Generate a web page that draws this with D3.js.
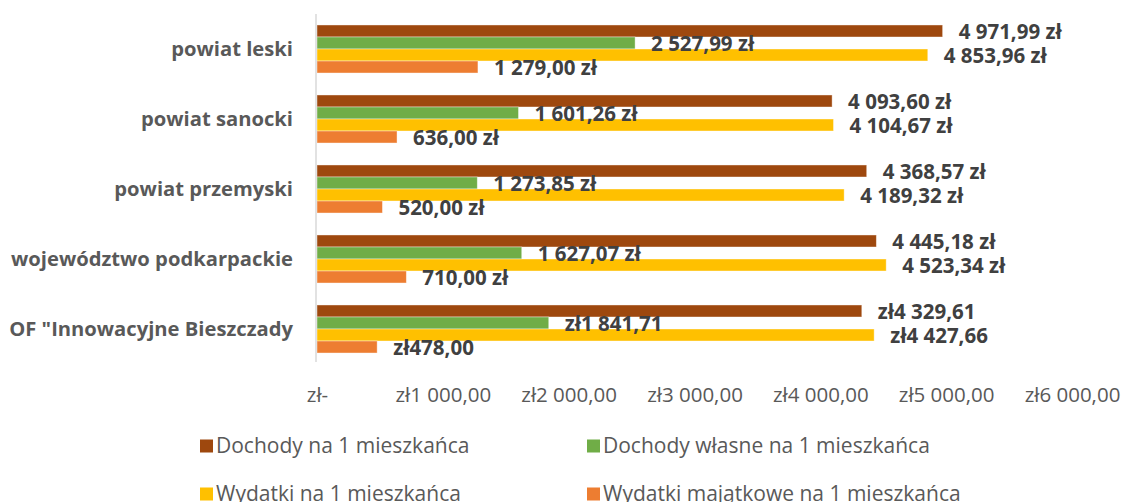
<!DOCTYPE html>
<html>
<head>
<meta charset="utf-8">
<script src="https://cdn.jsdelivr.net/npm/d3@7"></script>
<style>
  body { margin: 0; background: #fff; }
  svg { display: block; }
</style>
</head>
<body>
<div id="chart"></div>
<script>
var categories = ["powiat leski", "powiat sanocki", "powiat przemyski", "województwo podkarpackie", "OF \"Innowacyjne Bieszczady"];
var seriesNames = ["Dochody na 1 mieszkańca", "Dochody własne na 1 mieszkańca", "Wydatki na 1 mieszkańca", "Wydatki majątkowe na 1 mieszkańca"];
var seriesColors = ["#9e480e", "#70ad47", "#ffc000", "#ed7d31"];

var dochody = [4971.99, 4093.60, 4368.57, 4445.18, 4329.61];
var dochodyWlasne = [2527.99, 1601.26, 1273.85, 1627.07, 1841.71];
var wydatki = [4853.96, 4104.67, 4189.32, 4523.34, 4427.66];
var wydatkiMajatkowe = [1279.00, 636.00, 520.00, 710.00, 478.00];
// ostatnia kategoria ma walutę przed liczbą
var currencyFirst = [false, false, false, false, true];

var tickValues = [0, 1000, 2000, 3000, 4000, 5000, 6000];

var seriesValues = [dochody, dochodyWlasne, wydatki, wydatkiMajatkowe];

var width = 1128, height = 502;

var pl = d3.formatLocale({decimal: ",", thousands: "\u00a0", grouping: [3], currency: ["", " zł"]});
var num = pl.format(",.2f");

var svg = d3.select("#chart").append("svg")
  .attr("width", width)
  .attr("height", height);

var x = d3.scaleLinear().domain([0, 6000]).range([317, 1072]);
var y = d3.scaleBand().domain(categories).range([14, 364]).paddingInner(0.314).paddingOuter(0.157);
var y1 = d3.scaleBand().domain(d3.range(seriesNames.length)).range([0, y.bandwidth()]);

var data = categories.map(function(cat, ci){
  return seriesValues.map(function(vals, si){
    return {cat: cat, ci: ci, si: si, value: vals[ci]};
  });
});

var groups = svg.selectAll("g.group")
  .data(data)
  .enter()
  .append("g")
  .attr("class", "group")
  .attr("transform", function(d, i){ return "translate(0," + y(categories[i]) + ")"; });

groups.selectAll("rect")
  .data(function(d){ return d; })
  .enter()
  .append("rect")
  .attr("x", x(0))
  .attr("y", function(d){ return y1(d.si); })
  .attr("width", function(d){ return x(d.value) - x(0); })
  .attr("height", y1.bandwidth())
  .attr("fill", function(d){ return seriesColors[d.si]; })
  .attr("stroke", "#fff")
  .attr("stroke-opacity", 0.5)
  .attr("stroke-width", 0.8);

groups.selectAll("text")
  .data(function(d){ return d; })
  .enter()
  .append("text")
  .attr("x", function(d){ return x(d.value) + 16; })
  .attr("y", function(d){ return y1(d.si) + y1.bandwidth() / 2 + 1; })
  .attr("dy", "0.35em")
  .attr("fill", "#404040")
  .style("font-family", "'Open Sans', sans-serif")
  .style("font-size", "20.5px")
  .style("font-weight", "bold")
  .text(function(d){
    return currencyFirst[d.ci] ? "zł" + num(d.value) : num(d.value) + " zł";
  });

// category labels
svg.selectAll("text.cat")
  .data(categories)
  .enter()
  .append("text")
  .attr("class", "cat")
  .attr("x", 293)
  .attr("y", function(d){ return y(d) + y.bandwidth() / 2; })
  .attr("dy", "0.35em")
  .attr("text-anchor", "end")
  .attr("fill", "#595959")
  .style("font-family", "'Open Sans', sans-serif")
  .style("font-size", "20.2px")
  .style("font-weight", "bold")
  .text(function(d){ return d; });

// vertical axis line
svg.append("line")
  .attr("x1", x(0) - 1).attr("x2", x(0) - 1)
  .attr("y1", 14).attr("y2", 362)
  .attr("stroke", "#d9d9d9")
  .attr("stroke-width", 1.5);

// x axis
var xAxis = d3.axisBottom(x)
  .tickValues(tickValues)
  .tickSize(0)
  .tickPadding(0)
  .tickFormat(function(d){ return d === 0 ? "zł-" : "zł" + num(d); });

var axisG = svg.append("g")
  .attr("transform", "translate(0,387)")
  .call(xAxis);
axisG.select(".domain").remove();
axisG.selectAll("text")
  .attr("fill", "#595959")
  .style("font-family", "'Open Sans', sans-serif")
  .style("font-size", "20.5px")
  .style("font-weight", "normal");

// legend
var legendPos = [[200, 446], [587, 446], [200, 494], [587, 494]];
var legend = svg.selectAll("g.legend")
  .data(seriesNames)
  .enter()
  .append("g")
  .attr("class", "legend")
  .attr("transform", function(d, i){ return "translate(" + legendPos[i][0] + "," + legendPos[i][1] + ")"; });

legend.append("rect")
  .attr("x", 0).attr("y", -6.5)
  .attr("width", 13).attr("height", 13)
  .attr("fill", function(d, i){ return seriesColors[i]; });

legend.append("text")
  .attr("x", 16)
  .attr("dy", "0.35em")
  .attr("fill", "#595959")
  .style("font-family", "'Open Sans', sans-serif")
  .style("font-size", "21px")
  .style("font-weight", "normal")
  .text(function(d){ return d; });
</script>
</body>
</html>
